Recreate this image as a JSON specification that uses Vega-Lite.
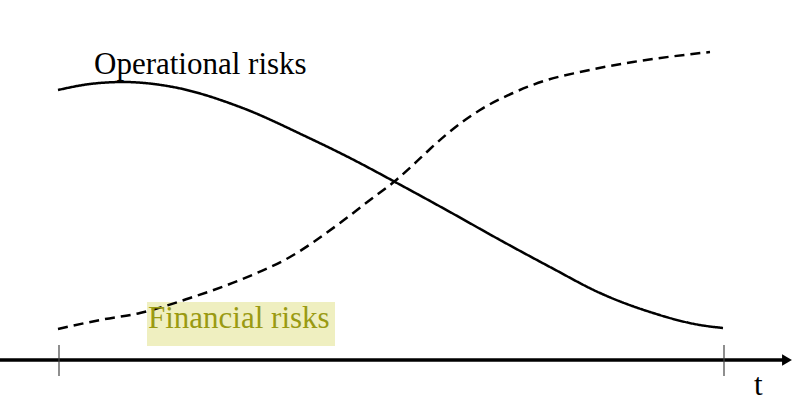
{
  "$schema": "https://vega.github.io/schema/vega-lite/v6.json",
  "width": 803,
  "height": 402,
  "autosize": "none",
  "padding": 0,
  "background": "white",
  "config": {"view": {"stroke": null}},
  "datasets": {
    "curves": [
      {"series": "Operational", "t": -2, "level": 270},
      {"series": "Operational", "t": 30, "level": 276},
      {"series": "Operational", "t": 63, "level": 278},
      {"series": "Operational", "t": 113, "level": 273},
      {"series": "Operational", "t": 180, "level": 253},
      {"series": "Operational", "t": 247, "level": 223},
      {"series": "Operational", "t": 290, "level": 202},
      {"series": "Operational", "t": 337, "level": 177},
      {"series": "Operational", "t": 390, "level": 148},
      {"series": "Operational", "t": 440, "level": 120},
      {"series": "Operational", "t": 490, "level": 93},
      {"series": "Operational", "t": 540, "level": 67},
      {"series": "Operational", "t": 590, "level": 48},
      {"series": "Operational", "t": 640, "level": 35},
      {"series": "Operational", "t": 663, "level": 32},
      {"series": "Financial", "t": -2, "level": 31},
      {"series": "Financial", "t": 40, "level": 40},
      {"series": "Financial", "t": 80, "level": 47},
      {"series": "Financial", "t": 130, "level": 62},
      {"series": "Financial", "t": 180, "level": 80},
      {"series": "Financial", "t": 230, "level": 103},
      {"series": "Financial", "t": 280, "level": 137},
      {"series": "Financial", "t": 310, "level": 160},
      {"series": "Financial", "t": 335, "level": 179},
      {"series": "Financial", "t": 353, "level": 195},
      {"series": "Financial", "t": 370, "level": 211},
      {"series": "Financial", "t": 387, "level": 226},
      {"series": "Financial", "t": 405, "level": 240},
      {"series": "Financial", "t": 420, "level": 250},
      {"series": "Financial", "t": 453, "level": 267},
      {"series": "Financial", "t": 487, "level": 280},
      {"series": "Financial", "t": 520, "level": 288},
      {"series": "Financial", "t": 573, "level": 298},
      {"series": "Financial", "t": 650, "level": 308}
    ],
    "ticks": [
      {"t": -1, "top": 15, "bottom": -16},
      {"t": 664, "top": 15, "bottom": -16}
    ],
    "labels": [
      {"label": "Operational risks", "t": 34, "level": 286, "colour": "#000000"},
      {"label": "Financial risks", "t": 88, "level": 32, "colour": "#9a9a12"},
      {"label": "t", "t": 694, "level": -35, "colour": "#000000"}
    ]
  },
  "encoding": {
    "x": {"field": "t", "type": "quantitative", "scale": {"domain": [-60, 743], "nice": false, "zero": false}, "axis": null},
    "y": {"field": "level", "type": "quantitative", "scale": {"domain": [-42, 360], "nice": false, "zero": false}, "axis": null}
  },
  "layer": [
    {
      "data": {"values": [{"t0": 87, "t1": 275, "l0": 58, "l1": 14}]},
      "mark": {"type": "rect", "color": "#efefc0"},
      "encoding": {
        "x": {"field": "t0", "type": "quantitative"},
        "x2": {"field": "t1"},
        "y": {"field": "l0", "type": "quantitative"},
        "y2": {"field": "l1"}
      }
    },
    {
      "data": {"values": [{"t0": -60, "t1": 725, "level": 0}]},
      "mark": {"type": "rule", "color": "#000000", "strokeWidth": 3.5},
      "encoding": {
        "x": {"field": "t0", "type": "quantitative"},
        "x2": {"field": "t1"}
      }
    },
    {
      "data": {"values": [{"t": 727, "level": 0}]},
      "mark": {"type": "point", "shape": "triangle-right", "filled": true, "opacity": 1, "color": "#000000", "size": 130},
      "encoding": {}
    },
    {
      "data": {"name": "ticks"},
      "mark": {"type": "rule", "color": "#444444", "strokeWidth": 1.2},
      "encoding": {
        "y": {"field": "top", "type": "quantitative"},
        "y2": {"field": "bottom"}
      }
    },
    {
      "data": {"name": "curves"},
      "mark": {"type": "line", "interpolate": "monotone", "color": "#000000", "strokeWidth": 2.5},
      "encoding": {
        "detail": {"field": "series", "type": "nominal"},
        "strokeDash": {
          "field": "series",
          "type": "nominal",
          "scale": {"domain": ["Operational", "Financial"], "range": [[1, 0], [10, 6]]},
          "legend": null
        }
      }
    },
    {
      "data": {"name": "labels"},
      "mark": {"type": "text", "font": "Liberation Serif", "fontSize": 31, "align": "left", "baseline": "alphabetic"},
      "encoding": {
        "text": {"field": "label"},
        "color": {"field": "colour", "type": "nominal", "scale": null}
      }
    }
  ]
}
